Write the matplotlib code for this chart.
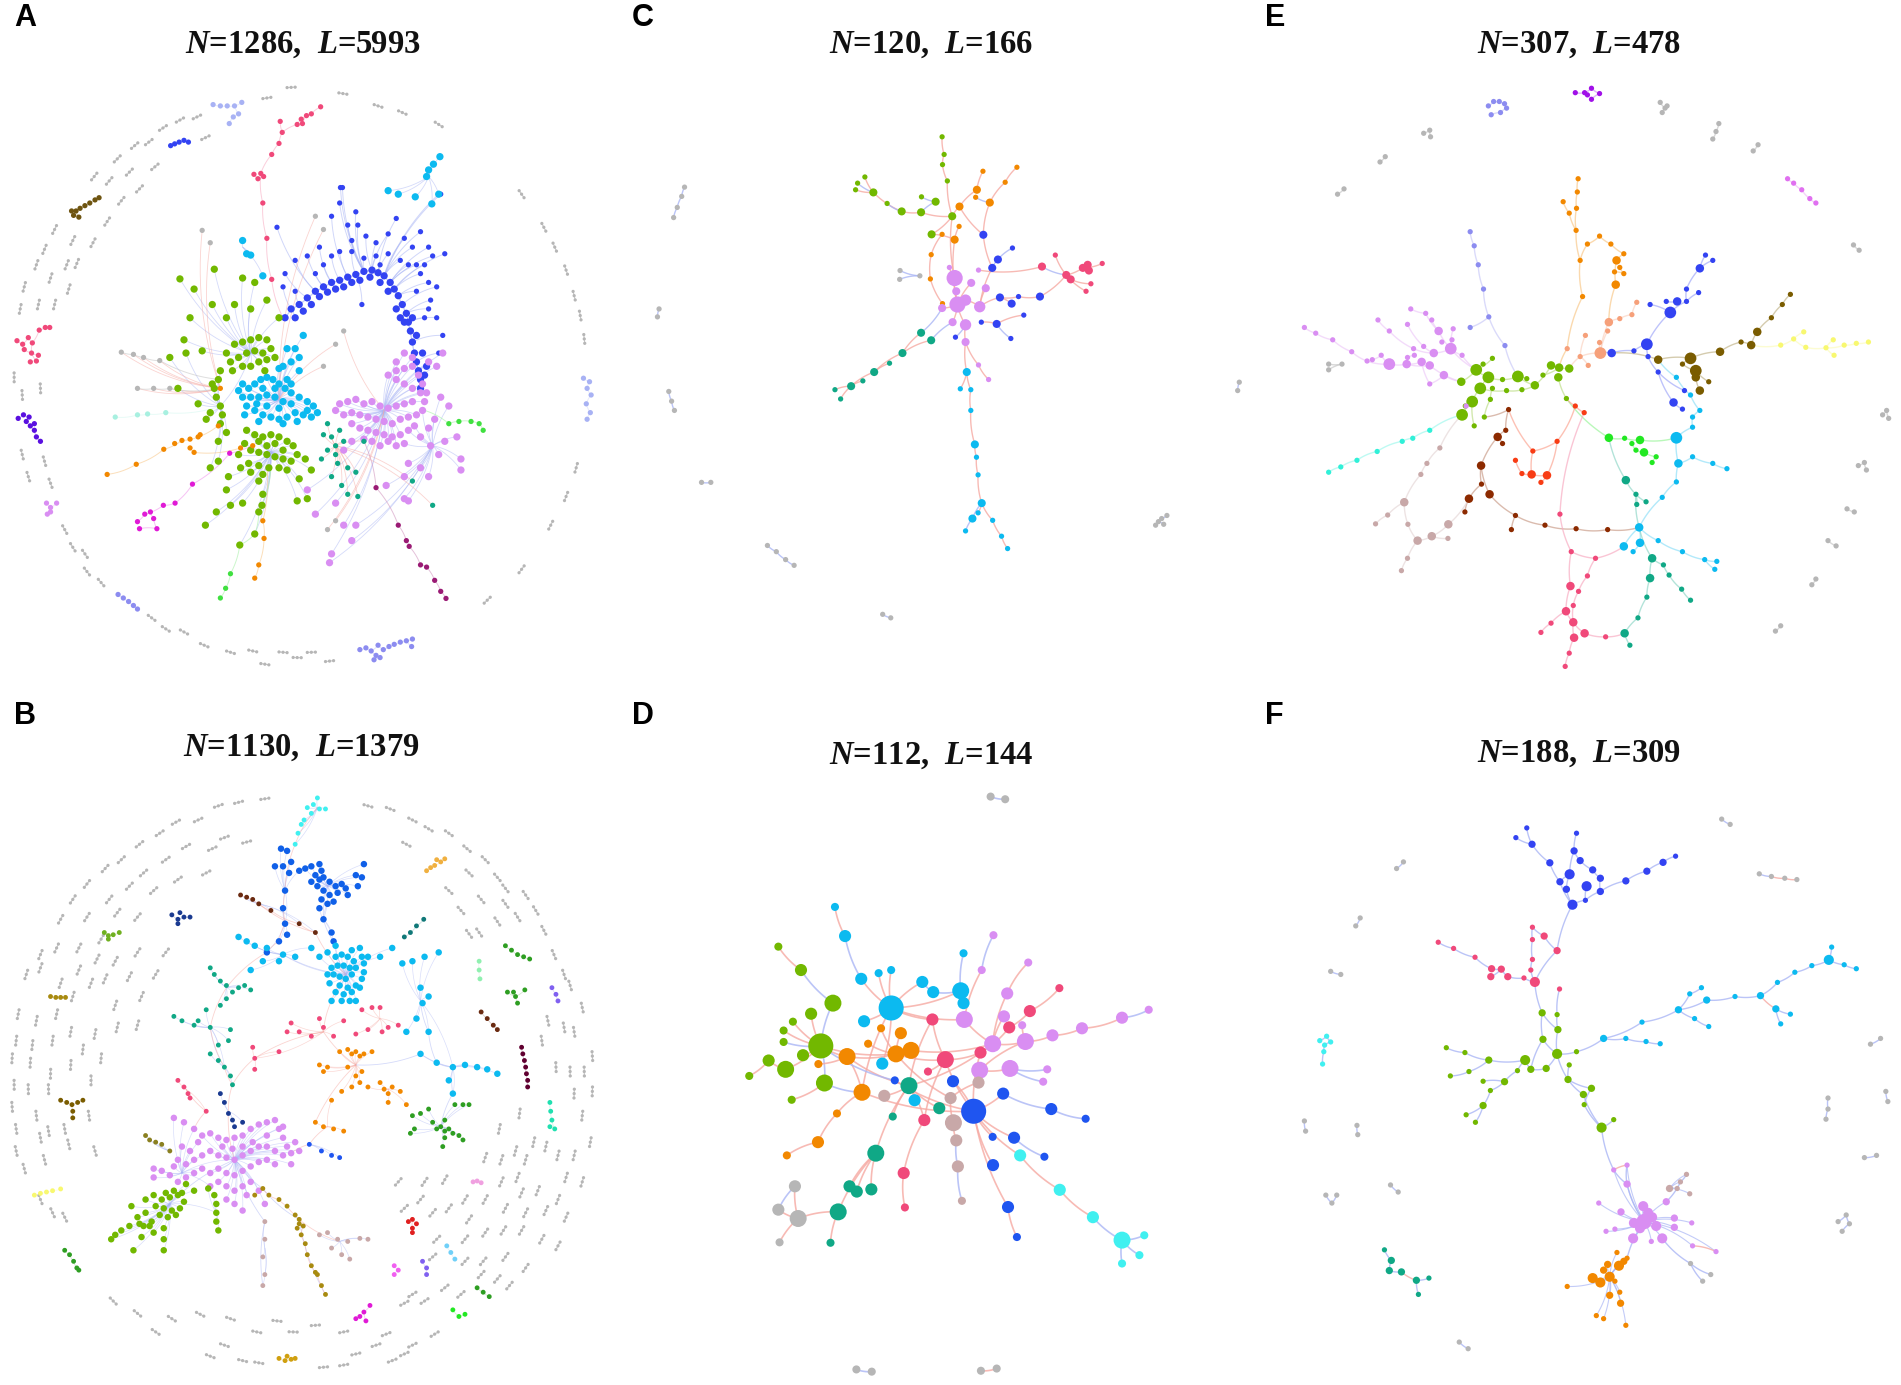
import numpy as np
import matplotlib
matplotlib.use("Agg")
import matplotlib.pyplot as plt
from matplotlib.collections import LineCollection

plt.rcParams['mathtext.fontset'] = 'custom'
plt.rcParams['mathtext.rm'] = 'Liberation Serif:bold'
plt.rcParams['mathtext.it'] = 'Liberation Serif:italic:bold'
plt.rcParams['mathtext.bf'] = 'Liberation Serif:bold'

# ---------------- titles / labels ----------------
TITLES = {'A': r'$N$=1286,  $L$=5993', 'C': r'$N$=120,  $L$=166', 'E': r'$N$=307,  $L$=478',
          'B': r'$N$=1130,  $L$=1379', 'D': r'$N$=112,  $L$=144', 'F': r'$N$=188,  $L$=309'}
TITLE_POS = {'A': (750, 100), 'C': (735, 100), 'E': (770, 100),
             'B': (745, 125), 'D': (735, 145), 'F': (770, 140)}

COL = {'gray': '#b6b6b6', 'violet': '#d98ef2', 'sky': '#0cbaf0', 'blue': '#3343f2', 'rblue': '#1f55f0',
       'green': '#72b800', 'orange': '#f28800', 'teal': '#10a886', 'pink': '#f0497a', 'magenta': '#e01ad6',
       'dmag': '#9a1a74', 'brown': '#6e5410', 'purple': '#5a10e0', 'lav': '#a8b2f4', 'lblue': '#a8d2f8',
       'cyan': '#40f0f0', 'mint': '#a8f0e0', 'salmon': '#f6a07a', 'olive': '#7a5c00', 'yellow': '#f8f870',
       'bgreen': '#22e822', 'redor': '#f83c14', 'dbrown': '#8c2a00', 'rosy': '#c8a8a8', 'lcyan': '#30f0d8',
       'peri': '#8c8cf0', 'navy': '#1a3a90', 'gold': '#a88a10', 'dgreen': '#2e9e22', 'pviolet': '#e070f0',
       'bpurple': '#a010e8', 'mblue': '#1060e8', 'dbrown2': '#6a2a10', 'orange2': '#f0b040',
       'olive2': '#8a8020', 'teal3': '#107878', 'maroon': '#600030', 'aqua': '#20e0b0', 'pinkl': '#f0a0e0',
       'red': '#e02020', 'skyl': '#70d0f8', 'mag2': '#f060f0', 'bv': '#8060f0', 'gold2': '#d0a010',
       'lgreen': '#40e040', 'lime2': '#70b020', 'mint2': '#90f0b0'}
EDGE = {'r': '#f6a9a2', 'b': '#aab6f5'}

# ================= PANEL C =================
C_nodes = [
    ('green', [(762,310),(767,350),(763,373),(775,410),(553,415),(571,401),(548,430),(592,436,2),(626,461),(662,479,2),
               (710,481,2),(711,446),(746,457,2),(787,490,2),(736,531,2)]),
    ('orange', [(863,388),(947,379),(918,413),(848,430,2),(845,447),(880,459,2),(805,468,2),(804,513),(762,531),
                (793,543,2),(735,577),(733,632),(763,688)]),
    ('blue', [(864,532,2),(936,562),(900,588,2),(886,607,2),(905,674,2),(951,672),(934,688,2),(1004,672,2),(964,714),
              (897,734,2),(859,730),(932,767),(795,764)]),
    ('pink', [(1009,604,2),(1042,578),(1069,623,2),(1080,633,2),(1110,607,2),(1122,600,2),(1125,613,2),(1158,597),
              (1130,643),(1118,660)]),
    ('violet', [(793,630,4),(800,690,4),(820,736,3),(855,695,3),(788,730,2),(870,653,2),(834,641,2),(852,612),(780,606),
                (797,660,2),(762,698,2),(820,775,2),(852,827),(877,860),(820,680,3)]),
    ('teal', [(710,754,2),(735,771,2),(664,800,2),(632,823),(594,843,2),(566,863),(537,875,2),(497,883),(511,904)]),
    ('sky', [(823,843,2),(807,881),(833,883),(833,930),(843,1007,2),(847,1036),(851,1076),(860,1140,2),(851,1162),
             (837,1175,2),(820,1203),(887,1179),(909,1215),(924,1243)]),
    ('gray', [(125,424),(118,445),(107,470),(98,493),(62,700),(58,718),(86,887),(93,909),(100,930),(167,1093),(190,1093),
              (330,1236),(352,1250),(375,1268),(396,1281),(615,1392),(635,1400),(1497,866),(1493,885),(1290,1190),
              (1305,1175),(1318,1168),(1310,1188),(1297,1182),(658,613),(657,633),(707,625)]),
]
C_edges = [
    ('r', [(762,310),(767,350),(763,373),(775,410),(787,490)]), ('r', [(787,490),(793,630)]),
    ('b', [(553,415),(592,436)]), ('r', [(548,430),(592,436)]), ('r', [(571,401),(592,436)]),
    ('r', [(592,436),(662,479),(710,481),(787,490)]), ('b', [(626,461),(662,479)]),
    ('b', [(711,446),(746,457),(710,481)]), ('r', [(736,531),(787,490)]),
    ('r', [(947,379),(918,413),(880,459),(864,532)]), ('r', [(863,388),(848,430),(805,468),(787,490)]),
    ('b', [(845,447),(880,459)]), ('r', [(805,468),(864,532)]),
    ('r', [(804,513),(793,543),(736,531)]), ('r', [(762,531),(735,577),(733,632),(763,688)]), ('r', [(793,543),(800,690)]),
    ('r', [(864,532),(886,607),(855,695)]), ('b', [(936,562),(900,588),(886,607)]), ('r', [(905,674),(951,672),(1004,672)]),
    ('r', [(934,688),(905,674),(855,695)]), ('r', [(964,714),(897,734),(859,730)]), ('b', [(897,734),(932,767)]),
    ('b', [(795,764),(820,736)]),
    ('r', [(852,612),(1009,604)]), ('b', [(1009,604),(1069,623)]), ('r', [(1069,623),(1110,607),(1158,597)]),
    ('r', [(1042,578),(1069,623)]), ('r', [(1080,633),(1130,643)]), ('r', [(1069,623),(1118,660)]),
    ('r', [(1004,672),(1069,623)]), ('r', [(1122,600),(1125,613)]),
    ('r', [(780,606),(793,630),(800,690),(820,736)]), ('r', [(834,641),(800,690)]), ('r', [(870,653),(855,695)]),
    ('r', [(762,698),(800,690)]), ('r', [(788,730),(800,690)]), ('r', [(820,736),(820,775),(852,827),(877,860)]),
    ('r', [(797,660),(800,690)]), ('r', [(855,695),(820,680),(800,690)]),
    ('b', [(788,730),(735,771)]), ('r', [(735,771),(664,800),(594,843),(537,875),(497,883)]), ('r', [(710,754),(664,800)]),
    ('r', [(632,823),(594,843)]), ('r', [(566,863),(537,875)]), ('r', [(537,875),(511,904)]), ('b', [(710,754),(762,698)]),
    ('r', [(820,775),(823,843),(833,883),(833,930),(843,1007),(847,1036),(851,1076),(860,1140)]),
    ('r', [(807,881),(823,843)]), ('b', [(860,1140),(837,1175),(820,1203)]),
    ('r', [(860,1140),(887,1179),(909,1215),(924,1243)]), ('r', [(851,1162),(860,1140)]),
    ('b', [(125,424),(118,445),(107,470),(98,493)]), ('b', [(62,700),(58,718)]), ('b', [(86,887),(93,909),(100,930)]),
    ('b', [(167,1093),(190,1093)]), ('b', [(330,1236),(352,1250),(375,1268),(396,1281)]), ('b', [(615,1392),(635,1400)]),
    ('b', [(1497,866),(1493,885)]), ('b', [(1290,1190),(1305,1175),(1318,1168)]), ('b', [(1310,1188),(1297,1182)]),
    ('b', [(658,613),(707,625),(657,633)]),
]

# ================= PANEL D =================
D_nodes = [
    ('sky', [(497,487,1),(522,553,2),(562,650,2),(605,637,1),(636,630,1),(636,716,4),(569,746,2),(713,657,2),(740,680,2),
             (808,677,3),(815,705,2),(815,592,1),(614,842,2),(694,925,2)]),
    ('green', [(357,577,1),(413,630,2),(492,705,3),(438,729,2),(393,747,1),(370,767,1),(370,793,1),(462,802,4),(418,823,2),
               (333,835,2),(375,855,3),(285,870,1),(471,886,3),(390,924,1)]),
    ('orange', [(611,762,1),(660,773,2),(579,797,1),(527,826,3),(648,820,3),(685,812,3),(456,843,1),(564,907,3),(502,955,1),
                (455,1020,2),(378,1050,1)]),
    ('pink', [(738,742,2),(979,723,2),(1052,671,1),(928,760,2),(770,833,3),(857,817,2),(727,860,1),(718,970,2),(667,1090,2),
              (670,1168,1)]),
    ('violet', [(889,551,1),(975,613,1),(860,630,1),(923,683,2),(817,742,3),(915,735,2),(960,755,1),(887,797,3),(968,792,3),
                (1035,778,2),(1108,762,2),(1207,738,2),(1273,720,1),(855,857,3),(930,853,3),(1022,855,1),(1012,883,1)]),
    ('rblue', [(645,880,1),(789,882,2),(840,950,4),(913,910,2),(1032,945,2),(1117,967,1),(887,1008,1),(940,1010,2),
               (1015,1053,1),(888,1072,2),(925,1167,2),(947,1235,1)]),
    ('teal', [(680,892,3),(755,943,2),(640,962,1),(598,1045,3),(533,1120,2),(551,1132,2),(587,1127,2),(505,1178,3),(486,1248,1)]),
    ('rosy', [(619,915,2),(783,920,2),(852,885,2),(790,976,3),(797,1016,2),(801,1075,2),(811,1153,1)]),
    ('gray', [(398,1120,2),(357,1173,2),(406,1193,3),(360,1247,1),(882,237,1),(918,243,1),(550,1535,1),(588,1540,1),
              (858,1538,1),(897,1533,1)]),
    ('cyan', [(955,1050,2),(1053,1128,2),(1135,1190,2),(1207,1242,3),(1262,1231,1),(1250,1276,1),(1207,1295,1)]),
]
D_edges = [
    ('r', [(497,487),(522,553)]), ('b', [(522,553),(562,650)]), ('r', [(562,650),(636,716)]), ('r', [(605,637),(636,716)]),
    ('r', [(636,630),(636,716)]), ('r', [(569,746),(636,716)]), ('r', [(713,657),(636,716)]), ('b', [(713,657),(740,680),(808,677)]),
    ('b', [(815,592),(808,677)]), ('b', [(808,677),(815,705)]), ('r', [(636,716),(738,742)]), ('r', [(636,716),(808,677)]),
    ('r', [(614,842),(636,716)]), ('r', [(694,925),(680,892)]),
    ('r', [(357,577),(413,630)]), ('b', [(413,630),(492,705)]), ('b', [(492,705),(462,802)]), ('r', [(438,729),(462,802)]),
    ('r', [(393,747),(462,802)]), ('r', [(370,767),(462,802)]), ('b', [(370,793),(462,802)]), ('r', [(418,823),(462,802)]),
    ('r', [(333,835),(375,855)]), ('r', [(285,870),(333,835)]), ('r', [(375,855),(462,802)]), ('b', [(471,886),(462,802)]),
    ('r', [(390,924),(471,886)]), ('b', [(471,886),(564,907)]), ('r', [(462,802),(527,826)]),
    ('r', [(527,826),(648,820)]), ('r', [(611,762),(648,820)]), ('r', [(660,773),(648,820)]), ('r', [(579,797),(648,820)]),
    ('r', [(648,820),(685,812)]), ('r', [(456,843),(527,826)]), ('r', [(564,907),(502,955),(455,1020),(378,1050)]),
    ('r', [(564,907),(527,826)]),
    ('r', [(738,742),(770,833)]), ('r', [(770,833),(857,817)]), ('r', [(857,817),(928,760),(979,723),(1052,671)]),
    ('r', [(727,860),(770,833)]), ('r', [(718,970),(667,1090),(670,1168)]), ('r', [(718,970),(680,892)]),
    ('b', [(889,551),(860,630)]), ('r', [(860,630),(817,742)]), ('r', [(975,613),(923,683)]), ('r', [(923,683),(887,797)]),
    ('r', [(915,735),(887,797)]), ('r', [(887,797),(968,792)]), ('r', [(968,792),(1035,778),(1108,762),(1207,738)]),
    ('b', [(1207,738),(1273,720)]), ('r', [(855,857),(930,853)]), ('b', [(930,853),(1022,855)]), ('b', [(930,853),(1012,883)]),
    ('r', [(960,755),(968,792)]), ('r', [(817,742),(887,797)]),
    ('r', [(840,950),(789,882)]), ('r', [(840,950),(913,910)]), ('b', [(913,910),(1032,945),(1117,967)]),
    ('r', [(840,950),(887,1008)]), ('r', [(840,950),(940,1010)]), ('b', [(940,1010),(1015,1053)]), ('r', [(840,950),(888,1072)]),
    ('r', [(840,950),(925,1167),(947,1235)]), ('r', [(645,880),(840,950)]),
    ('r', [(680,892),(755,943)]), ('r', [(680,892),(640,962)]), ('r', [(680,892),(598,1045)]), ('r', [(598,1045),(533,1120)]),
    ('r', [(598,1045),(551,1132)]), ('r', [(598,1045),(587,1127)]), ('r', [(598,1045),(505,1178)]), ('r', [(505,1178),(486,1248)]),
    ('r', [(505,1178),(406,1193)]),
    ('r', [(852,885),(783,920),(790,976),(797,1016)]), ('b', [(797,1016),(801,1075),(811,1153)]), ('r', [(619,915),(680,892)]),
    ('b', [(398,1120),(357,1173)]), ('r', [(357,1173),(406,1193),(360,1247)]), ('r', [(398,1120),(406,1193)]),
    ('r', [(840,950),(955,1050),(1053,1128),(1135,1190)]), ('b', [(1135,1190),(1207,1242)]), ('b', [(1207,1242),(1262,1231)]),
    ('b', [(1207,1242),(1250,1276)]), ('b', [(1207,1242),(1207,1295)]),
    ('r', [(462,802),(648,820)]), ('r', [(636,716),(817,742)]), ('r', [(527,826),(680,892)]), ('r', [(648,820),(770,833)]),
    ('r', [(770,833),(840,950)]), ('r', [(685,812),(887,797)]), ('r', [(564,907),(840,950)]), ('r', [(680,892),(887,797)]),
    ('r', [(738,742),(680,892)]), ('r', [(636,716),(564,907)]), ('r', [(857,817),(840,950)]), ('r', [(968,792),(855,857)]),
    ('r', [(770,833),(718,970)]), ('r', [(648,820),(783,920)]), ('b', [(462,802),(645,880)]),
    ('b', [(882,237),(918,243)]), ('b', [(550,1535),(588,1540)]), ('r', [(858,1538),(897,1533)]),
]

# ================= PANEL E =================
E_nodes = [
    ('peri', [(545,240),(558,230),(572,230),(585,235),(590,245),(575,255),(552,260)]),
    ('bpurple', [(760,210),(783,210),(800,200),(820,212),(800,225),(790,215)]),
    ('pviolet', [(1285,405),(1300,415),(1320,430),(1340,450),(1355,460)]),
    ('gray', [(970,232),(982,245),(975,255),(987,240),(385,302),(400,295),(402,310),(277,367),(290,355),(172,440),(188,428),
              (1100,315),(1108,298),(1115,280),(1200,342),(1212,328),(1448,555),(1462,567),(1520,940),(1530,930),(1535,948),
              (1460,1055),(1475,1048),(1480,1065),(1432,1153),(1450,1160),(1385,1225),(1405,1237),(1345,1325),(1355,1312),
              (1255,1430),(1268,1418),(150,825),(150,838),(183,825)]),
    ('green', [(515,838,3),(545,855,3),(525,880,3),(505,910,3),(480,940,3),(478,865,2),(555,880),(550,905),(535,945),(510,965),
               (580,860),(618,853,3),(640,858),(660,873,2),(628,883),(590,885),(680,850),(700,828,2),(720,833,2),(745,835,2),
               (718,855,2),(738,903),(555,812),(532,825),(488,920)]),
    ('violet', [(90,742),(118,755),(160,770),(207,797),(245,818),(258,815),(280,805),(300,825,3),(343,825,2),(362,805),
                (380,820,2),(400,828,2),(410,800,2),(385,785),(360,790),(345,810),(353,700),(390,710),(405,725),(422,750,2),
                (452,790,3),(455,770),(430,775),(435,850,2),(400,870),(300,750),(272,725),(345,735),(458,745),(480,805),(490,920)]),
    ('peri', [(500,525),(510,557),(520,600),(533,655),(546,718),(500,742),(586,783)]),
    ('orange', [(767,405),(765,435),(763,472),(730,457),(745,483),(762,522),(790,553),(820,535),(848,553),(880,575),(862,590,2),
                (870,606),(880,620),(857,616),(860,645,2),(772,590),(778,672)]),
    ('salmon', [(912,685),(900,713),(870,722),(843,730,2),(840,750),(785,760),(820,776),(822,800,3),(740,790),(772,808),(792,828)]),
    ('blue', [(1082,578),(1100,590),(1068,608,2),(1035,655),(1065,663),(985,683),(1012,683,2),(1035,683),(995,708,3),(945,690),
              (937,780,3),(905,795),(850,800,2),(940,808),(965,843),(1003,912,2),(1025,927),(1030,885)]),
    ('olive', [(1292,667),(1272,690),(1245,720),(1210,752,2),(1195,782,2),(1170,775),(1118,797,2),(1045,812,3),(1025,825),
               (1058,840,3),(1058,855,2),(1090,865),(1068,885,2),(965,815,2)]),
    ('yellow', [(1268,782),(1300,768),(1325,752),(1330,787),(1380,788),(1398,770),(1400,805),(1425,782),(1455,778),(1485,775)]),
    ('sky', [(1010,855),(1045,895),(1068,930),(1050,945),(1050,968),(1010,992,3),(1015,1050,2),(1050,1035),(1100,1050),
             (1135,1062),(1010,1092),(975,1127),(918,1195,2),(965,1225),(920,1230,2),(880,1238,2),(903,1250),(1025,1250),
             (1080,1268),(1110,1272),(1105,1290)]),
    ('bgreen', [(843,992,2),(882,993),(900,1005),(920,997,2),(910,1020),(930,1025,2),(960,1035),(950,1048)]),
    ('teal', [(885,1088,2),(910,1120),(935,1137),(912,1143),(950,1265,2),(978,1280),(992,1303),(945,1310,2),(1023,1335),
              (1045,1360),(937,1353),(915,1400),(882,1435,2),(895,1462)]),
    ('redor', [(760,920),(782,935),(715,1000),(655,1022),(612,1043),(628,1073),(652,1075,2),(690,1077,2),(675,1093)]),
    ('dbrown', [(595,928),(588,975),(568,990,2),(580,1005),(527,1055,2),(528,1097),(548,1120,2),(497,1130,2),(487,1160),
                (612,1168),(602,1200),(685,1190),(762,1198),(840,1200)]),
    ('rosy', [(425,1015),(393,1050),(378,1075),(337,1138,2),(296,1167),(266,1187),(346,1188),(370,1225,2),(405,1215,2),
              (446,1188,2),(445,1220),(345,1265),(330,1293)]),
    ('lcyan', [(400,975),(358,993),(332,1000),(270,1023),(220,1043),(180,1058),(150,1070)]),
    ('pink', [(722,1165),(750,1250),(810,1265),(790,1305),(748,1328,2),(768,1340),(755,1372),(737,1385,2),(755,1410,2),
              (700,1412),(675,1433),(783,1435,2),(757,1445,2),(835,1443),(745,1480),(735,1510)]),
]
E_edges = [
    ('gray', [(385,302),(400,295),(402,310)]), ('gray', [(277,367),(290,355)]), ('gray', [(172,440),(188,428)]),
    ('gray', [(1100,315),(1108,298),(1115,280)]), ('gray', [(1200,342),(1212,328)]), ('gray', [(1448,555),(1462,567)]),
    ('gray', [(1520,940),(1530,930),(1535,948)]), ('gray', [(1460,1055),(1475,1048),(1480,1065)]),
    ('gray', [(1432,1153),(1450,1160)]), ('gray', [(1385,1225),(1405,1237)]), ('gray', [(1345,1325),(1355,1312)]),
    ('gray', [(1255,1430),(1268,1418)]), ('gray', [(150,825),(183,825),(150,838)]), ('gray', [(970,232),(982,245),(975,255)]),
    ('peri', [(545,240),(558,230),(572,230),(585,235),(590,245),(575,255),(552,260)]),
    ('bpurple', [(760,210),(783,210),(800,200),(820,212),(800,225)]),
    ('pviolet', [(1285,405),(1300,415),(1320,430),(1340,450),(1355,460)]),
    ('violet', [(90,742),(118,755),(160,770),(207,797),(245,818),(300,825),(343,825),(400,828),(478,865)]),
    ('violet', [(353,700),(390,710),(422,750),(452,790),(515,838)]), ('violet', [(272,725),(300,750),(360,790),(410,800),(452,790)]),
    ('violet', [(258,815),(280,805),(300,825)]), ('violet', [(343,825),(380,820),(400,870),(435,850),(478,865)]),
    ('violet', [(405,725),(422,750)]), ('violet', [(455,770),(452,790),(480,805),(515,838)]), ('violet', [(362,805),(345,810)]),
    ('violet', [(458,745),(452,790)]), ('violet', [(490,920),(505,910)]), ('violet', [(345,735),(385,785),(410,800)]),
    ('peri', [(500,525),(510,557),(520,600),(533,655),(546,718),(586,783),(618,853)]), ('peri', [(500,742),(546,718)]),
    ('green', [(478,865),(515,838),(545,855),(525,880),(505,910),(480,940)]), ('green', [(515,838),(555,812)]),
    ('green', [(545,855),(580,860),(618,853),(660,873),(700,828),(745,835)]), ('green', [(525,880),(590,885),(628,883),(660,873)]),
    ('green', [(555,880),(550,905),(535,945)]), ('green', [(505,910),(510,965)]), ('green', [(680,850),(720,833)]),
    ('green', [(718,855),(738,903)]), ('green', [(532,825),(515,838)]), ('green', [(640,858),(618,853)]),
    ('orange', [(767,405),(765,435),(763,472),(762,522),(772,590),(778,672),(740,790),(720,833)]),
    ('orange', [(730,457),(745,483),(762,522)]), ('orange', [(790,553),(820,535),(848,553),(880,575),(862,590),(860,645),(843,730)]),
    ('orange', [(870,606),(880,620),(857,616)]), ('orange', [(790,553),(772,590)]),
    ('salmon', [(912,685),(900,713),(870,722),(843,730),(822,800),(772,808),(745,835)]), ('salmon', [(840,750),(822,800)]),
    ('salmon', [(785,760),(772,808)]), ('salmon', [(820,776),(822,800)]), ('salmon', [(792,828),(772,808)]),
    ('blue', [(1082,578),(1068,608),(1035,655),(1035,683),(995,708),(945,690)]), ('blue', [(1100,590),(1068,608)]),
    ('blue', [(1065,663),(1035,683)]), ('blue', [(985,683),(1012,683)]), ('blue', [(995,708),(937,780),(905,795),(850,800),(822,800)]),
    ('blue', [(937,780),(940,808),(965,843),(1003,912),(1025,927)]), ('blue', [(965,843),(1030,885)]),
    ('olive', [(1292,667),(1272,690),(1245,720),(1210,752),(1195,782),(1170,775),(1118,797),(1045,812),(965,815),(850,800)]),
    ('olive', [(1045,812),(1025,825),(1058,840),(1058,855),(1068,885)]), ('olive', [(1058,840),(1090,865)]),
    ('yellow', [(1195,782),(1268,782),(1300,768),(1330,787),(1380,788),(1425,782),(1455,778),(1485,775)]),
    ('yellow', [(1325,752),(1300,768)]), ('yellow', [(1398,770),(1380,788),(1400,805)]),
    ('sky', [(965,815),(1010,855),(1045,895),(1068,930),(1050,945),(1050,968),(1010,992),(1015,1050),(1010,1092),(975,1127),
             (918,1195),(880,1238)]),
    ('sky', [(1015,1050),(1050,1035),(1100,1050),(1135,1062)]), ('sky', [(918,1195),(965,1225),(1025,1250),(1080,1268),(1110,1272)]),
    ('sky', [(1080,1268),(1105,1290)]), ('sky', [(920,1230),(918,1195)]), ('sky', [(903,1250),(920,1230)]),
    ('bgreen', [(738,903),(843,992),(882,993),(920,997),(1010,992)]), ('bgreen', [(900,1005),(910,1020),(930,1025),(960,1035),(950,1048)]),
    ('teal', [(843,992),(885,1088),(910,1120),(918,1195),(950,1265),(945,1310),(937,1353),(915,1400),(882,1435),(895,1462)]),
    ('teal', [(910,1120),(935,1137)]), ('teal', [(912,1143),(910,1120)]), ('teal', [(950,1265),(978,1280),(992,1303),(1023,1335),(1045,1360)]),
    ('redor', [(738,903),(760,920),(782,935)]), ('redor', [(595,928),(655,1022),(715,1000),(760,920)]),
    ('redor', [(612,1043),(628,1073),(652,1075),(690,1077),(715,1000)]), ('redor', [(675,1093),(690,1077)]), ('redor', [(655,1022),(652,1075)]),
    ('dbrown', [(535,945),(595,928),(588,975),(568,990),(527,1055),(528,1097),(497,1130),(487,1160)]), ('dbrown', [(580,1005),(568,990)]),
    ('dbrown', [(527,1055),(548,1120),(612,1168),(685,1190),(762,1198),(840,1200),(918,1195)]), ('dbrown', [(612,1168),(602,1200)]),
    ('rosy', [(480,940),(425,1015),(393,1050),(378,1075),(337,1138),(296,1167),(266,1187)]),
    ('rosy', [(337,1138),(346,1188),(370,1225),(405,1215),(446,1188),(497,1130)]), ('rosy', [(370,1225),(345,1265),(330,1293)]),
    ('rosy', [(405,1215),(445,1220)]),
    ('lcyan', [(480,940),(400,975),(358,993),(332,1000),(270,1023),(220,1043),(180,1058),(150,1070)]),
    ('pink', [(782,935),(722,1165),(750,1250),(748,1328),(737,1385),(755,1410),(757,1445),(745,1480),(735,1510)]),
    ('pink', [(750,1250),(810,1265),(880,1238)]), ('pink', [(810,1265),(790,1305),(768,1340),(755,1372),(755,1410)]),
    ('pink', [(737,1385),(700,1412),(675,1433)]), ('pink', [(755,1410),(783,1435),(835,1443),(882,1435)]),
]

# ================= PANEL F =================
F_nodes = [
    ('blue', [(640,308),(613,330),(653,345,2),(763,320),(757,360,2),(772,382,2),(697,387,2),(746,413,3),(722,430,2),(738,447,2),
              (788,440,3),(803,403,2),(822,422,2),(822,452,2),(785,472),(753,482,3),(885,428,2),(937,406,2),(977,386,2),(1008,372)]),
    ('pink', [(654,533),(683,553,2),(421,567),(459,581),(512,601),(654,561),(715,586,2),(654,606),(553,627,2),(577,628,2),
              (593,645,2),(551,645,2),(650,630),(633,648),(660,657,3),(721,673)]),
    ('green', [(678,727,2),(715,731),(717,765,2),(680,787,2),(715,820,3),(763,815),(441,806),(487,817),(546,834,2),(636,834,3),
               (617,858),(650,855,2),(688,853,2),(745,845),(497,860),(451,870),(585,883,2),(532,882),(742,878,2),(550,903),
               (780,912,2),(800,898,2),(782,935),(532,937,2),(490,958),(513,975),(825,987,3),(855,969)]),
    ('sky', [(830,785,2),(885,785),(935,792),(970,797),(925,748),(1015,720,2),(1043,684),(1072,670),(1085,698,2),(1055,740),
             (1090,758),(1155,690),(1218,688,2),(1256,718,2),(1292,730),(1268,752),(1260,658),(1303,635),(1345,620),(1387,607,3),
             (1394,578),(1425,618),(1455,627)]),
    ('violet', [(855,1083),(888,1072),(888,1115,2),(818,1158),(873,1178,2),(928,1165,3),(950,1190,3),(985,1155,2),(905,1203,3),
                (858,1217),(836,1222),(903,1238,3),(975,1238,3),(1005,1192,2),(1005,1213,2),(1048,1203),(948,1245),(1108,1268),
                (1050,1255),(930,1200,4),(940,1180,3),(920,1215,3),(960,1210,3)]),
    ('rosy', [(1035,1093),(1020,1110),(993,1125,2),(1012,1125),(1043,1137)]),
    ('orange', [(863,1270),(888,1283),(840,1297,2),(868,1300,3),(803,1328,3),(822,1338,3),(845,1325,3),(858,1335),(845,1367,2),
                (870,1360),(872,1385,2),(740,1347),(812,1413),(830,1420),(885,1435),(880,1290,2),(830,1310,2)]),
    ('teal', [(288,1264),(305,1288,2),(300,1311,2),(330,1314,2),(367,1333,2),(398,1328),(372,1365)]),
    ('cyan', [(128,790),(145,780),(155,793),(140,800),(138,815),(135,843)]),
    ('gray', [(1045,1295),(1075,1335),(1095,1320),(1122,288),(1143,300),(318,400),(335,385),(217,530),(228,512),(155,633),
              (180,640),(90,972),(93,995),(220,982),(222,1003),(303,1117),(322,1133),(143,1140),(158,1158),(170,1140),(473,1473),
              (495,1488),(1215,412),(1245,418),(1278,422),(1308,425),(1490,798),(1515,785),(1528,905),(1533,928),(1385,920),
              (1385,945),(1380,968),(1475,1055),(1505,1050),(1410,1200),(1430,1185),(1438,1205),(1420,1222)]),
]
F_edges = [
    ('b', [(640,308),(653,345),(697,387),(722,430),(753,482)]), ('b', [(613,330),(653,345)]),
    ('b', [(763,320),(757,360),(746,413),(738,447),(753,482)]), ('b', [(772,382),(803,403),(822,422),(822,452),(785,472),(753,482)]),
    ('b', [(788,440),(785,472)]), ('b', [(746,413),(722,430)]), ('b', [(1008,372),(977,386),(937,406),(885,428),(822,452)]),
    ('b', [(753,482),(715,586),(660,657)]), ('b', [(757,360),(772,382)]),
    ('b', [(421,567),(459,581),(512,601),(553,627),(577,628),(593,645),(633,648),(660,657)]), ('b', [(551,645),(577,628)]),
    ('b', [(654,533),(654,561),(654,606),(650,630),(660,657)]), ('b', [(683,553),(715,586)]), ('b', [(660,657),(678,727),(717,765)]),
    ('b', [(721,673),(715,731)]), ('b', [(654,533),(683,553)]),
    ('b', [(678,727),(680,787),(650,855)]), ('b', [(715,731),(717,765),(715,820),(742,878),(780,912),(825,987)]),
    ('b', [(680,787),(715,820),(763,815)]), ('b', [(441,806),(487,817),(546,834),(636,834),(650,855),(688,853),(715,820)]),
    ('b', [(451,870),(497,860),(546,834)]), ('b', [(617,858),(585,883),(532,882)]), ('b', [(550,903),(585,883)]),
    ('b', [(490,958),(532,937),(550,903)]), ('b', [(513,975),(532,937)]), ('b', [(745,845),(742,878),(800,898),(782,935),(825,987)]),
    ('b', [(825,987),(855,969)]), ('b', [(636,834),(617,858)]),
    ('b', [(763,815),(830,785),(925,748),(1015,720),(1085,698),(1155,690),(1218,688),(1260,658),(1303,635),(1345,620),(1387,607),
           (1425,618),(1455,627)]),
    ('b', [(830,785),(885,785),(935,792),(970,797)]), ('b', [(1015,720),(1043,684),(1072,670)]),
    ('b', [(1015,720),(1055,740),(1090,758)]), ('r', [(1218,688),(1256,718)]), ('b', [(1256,718),(1292,730)]),
    ('b', [(1256,718),(1268,752)]), ('b', [(1387,607),(1394,578)]),
    ('b', [(825,987),(855,1083),(888,1115),(930,1200)]), ('r', [(888,1072),(855,1083)]), ('b', [(888,1072),(888,1115)]),
    ('b', [(930,1200),(888,1283),(868,1300),(845,1325)]), ('b', [(985,1155),(1020,1110),(1035,1093)]),
    ('b', [(975,1238),(1045,1295),(1075,1335)]), ('b', [(1045,1295),(1095,1320)]), ('r', [(1108,1268),(1050,1255)]),
    ('b', [(288,1264),(305,1288),(300,1311),(330,1314)]), ('r', [(330,1314),(367,1333)]), ('b', [(367,1333),(398,1328)]),
    ('b', [(367,1333),(372,1365)]),
    ('b', [(128,790),(145,780),(155,793),(140,800),(138,815),(135,843)]),
    ('b', [(1122,288),(1143,300)]), ('b', [(318,400),(335,385)]), ('b', [(217,530),(228,512)]), ('b', [(155,633),(180,640)]),
    ('b', [(90,972),(93,995)]), ('b', [(220,982),(222,1003)]), ('b', [(303,1117),(322,1133)]), ('b', [(143,1140),(158,1158),(170,1140)]),
    ('b', [(473,1473),(495,1488)]), ('b', [(1215,412),(1245,418)]), ('r', [(1245,418),(1278,422),(1308,425)]),
    ('b', [(1490,798),(1515,785)]), ('b', [(1528,905),(1533,928)]), ('b', [(1385,920),(1385,945),(1380,968)]),
    ('b', [(1475,1055),(1505,1050)]), ('b', [(1410,1200),(1430,1185),(1438,1205),(1420,1222)]),
]
F_hubs = {'violet': [(930,1200)], 'orange': [(845,1325)], 'rosy': [(993,1125)]}

# ================= PANEL A =================
A_center = (750, 850)
A_dash = [(720,198),(848,212),(935,240),(995,255),(1085,282),(660,222),(487,265),(445,272),(403,290),(368,322),(333,330),
          (290,360),(508,312),(383,378),(345,428),(320,390),(270,410),(233,400),(300,455),(265,502),(135,520),(180,545),
          (230,550),(110,565),(90,600),(125,630),(165,600),(190,597),(60,650),(95,690),(135,690),(170,655),(50,700),(35,855),
          (100,880),(55,895),(55,1030),(70,1080),(110,1045),(125,1095),(160,1200),(180,1240),(210,1255),(215,1295),(250,1320),
          (375,1400),(410,1425),(455,1432),(505,1462),(570,1478),(625,1475),(655,1505),(700,1478),(735,1490),(770,1478),
          (815,1498),(1290,440),(1345,515),(1372,560),(1400,612),(1420,670),(1435,715),(1445,768),(1425,1060),(1400,1125),
          (1362,1190),(1290,1290),(1205,1360)]
A_ring = [(705,720),(720,700),(740,690),(760,675),(780,660),(800,650),(820,640),(840,635),(860,628),(880,622),(900,615),
          (920,612),(935,618),(950,625),(965,640),(975,655),(985,670),(995,690),(1005,710),(1010,730),(1015,750),(1020,775),
          (1025,800),(1030,820),(1035,840),(1040,860)]
A_ring_in = [(730,720),(750,705),(770,690),(790,672),(810,662),(830,655),(850,650),(870,640),(890,635),(915,628),(940,640),
             (960,660),(980,700),(990,720),(1000,730),(1020,720),(1030,760),(1045,800),(1055,830),(1050,850),(1040,880)]
A_blue_out = [(842,425),(847,425),(840,460),(820,490),(880,480),(885,510),(860,510),(905,535),(930,550),(960,530),(980,495),
              (1000,540),(1020,560),(1040,525),(1060,560),(1070,580),(1100,575),(1050,600),(1030,600),(1010,600),(990,590),
              (960,575),(930,580),(900,585),(870,570),(840,570),(820,580),(790,560),(760,580),(730,590),(705,620),(685,515),
              (700,650),(730,660),(780,620),(800,600),(940,600),(1060,640),(1080,650),(1080,720),(1095,760),(1060,700),
              (1085,440),(1090,440),(1030,660),(895,690),(1065,680),(1040,620),(870,545),(1050,720),(1085,800)]
A_nodes = [
    ('sky', [(1088,355),(1072,372),(1060,385),(1055,400),(1085,440),(1068,462),(960,432),(985,440),(1027,446),
             (600,870),(615,880),(630,870),(645,860),(660,855),(675,860),(690,870),(705,880),(720,890),(740,900),(760,910),
             (775,920),(785,935),(770,945),(750,940),(730,935),(710,945),(690,950),(670,945),(650,940),(630,930),(610,920),
             (600,900),(620,900),(640,900),(660,895),(680,900),(700,910),(720,915),(690,925),(660,920),(635,915),(710,860),
             (650,880),(590,885),(605,940),(640,955),(700,960),(735,955),(760,930),(680,880),(720,870),(700,830),(720,820),
             (740,810),(730,790),(750,760),(710,790),(690,835),(740,840),(600,545),(610,575),(620,578),(650,625)]),
    ('green', [(580,780),(600,775),(620,770),(640,765),(660,770),(670,790),(650,800),(630,795),(610,800),(590,810),(570,820),
               (560,800),(600,830),(640,820),(660,815),(680,810),(620,830),(655,840),(575,840),(545,840),(540,860),(530,880),
               (535,900),(545,920),(550,940),(545,960),(560,980),(540,1000),(525,870),(520,935),(455,770),(460,800),(480,655),
               (445,632),(525,690),(530,610),(470,720),(500,795),(420,810),(440,880),(490,915),(510,950),(540,1045),(520,1060),
               (565,1080),(560,1110),(570,1145),(535,1160),(508,1190),(600,1140),(640,1090),(650,1120),(740,1085),(760,1130),
               (735,1135),(755,1040),(770,1065),(630,640),(600,630),(620,700),(560,720),(580,690),(690,720),(660,680),
               (610,975),(630,985),(650,990),(670,985),(690,990),(710,1000),(725,1010),(735,1030),(720,1045),(700,1040),
               (680,1035),(660,1030),(640,1025),(620,1020),(605,1005),(615,1050),(640,1055),(665,1060),(690,1060),(710,1065),
               (650,1075),(620,1070),(590,1030),(595,1060),(700,1020),(680,1005),(660,1010),(640,1000),(630,1210),(640,1160),
               (648,1145),(593,1235)]),
    ('lgreen', [(545,1355),(558,1333),(570,1300),(1110,960),(1135,955),(1165,955),(1185,960),(1195,975)]),
    ('violet', [(830,930),(850,940),(870,935),(890,940),(910,945),(930,950),(950,955),(970,960),(990,950),(1010,945),(1030,940),
                (1045,930),(1050,910),(1040,890),(1020,880),(1000,870),(980,860),(960,850),(980,840),(1000,835),(1020,830),
                (1035,850),(1045,870),(1055,890),(870,960),(890,970),(910,975),(930,980),(950,985),(970,990),(990,985),
                (1010,975),(1025,965),(940,920),(960,925),(980,920),(1000,915),(1020,910),(900,915),(920,910),(880,905),
                (860,910),(840,915),(960,1000),(980,1010),(1000,1005),(940,1010),(920,1000),(900,995),(1040,990),(1060,970),
                (1075,950),(1065,1010),(1085,1030),(1100,1000),(1130,990),(1140,1040),(1140,1065),(1040,1060),(1010,1050),
                (1060,1080),(1000,1080),(870,1000),(850,1020),(1000,1130),(1010,1135),(955,1100),(815,1275),(820,1255),
                (870,1225),(880,1190),(830,1140),(850,1190),(780,1165),(760,1110),(1095,800),(1080,830),(1090,900),
                (1110,920),(1000,800),(1020,810),(980,820),(1060,820)]),
    ('teal', [(800,985),(820,990),(840,975),(830,1010),(810,1020),(850,1000),(880,1070),(860,1060),(835,1050),(820,1080),
              (845,1100),(860,1120),(885,1125),(1020,1090),(1070,1145),(810,960),(795,1040),(830,1030),(900,1000)]),
    ('orange', [(265,1075),(337,1052),(405,1018),(432,1005),(450,998),(470,995),(490,990),(495,985),(470,1015),(480,1025),
                (540,965),(545,880),(595,1015),(625,1010),(650,1180),(653,1220),(640,1280),(630,1310)]),
    ('magenta', [(340,1182),(358,1165),(372,1160),(380,1175),(388,1198),(345,1198),(404,1145),(433,1140),(476,1097),(568,1027)]),
    ('dmag', [(985,1190),(1005,1225),(1012,1238),(1040,1280),(1055,1285),(1075,1315),(1090,1340),(1103,1356),(930,1105)]),
    ('pink', [(793,242),(770,258),(758,262),(745,270),(735,282),(748,280),(693,275),(698,300),(690,325),(672,350),(645,393),
              (628,395),(638,405),(652,400),(650,460),(660,540),(672,633)]),
    ('gray', [(300,798),(330,803),(355,810),(395,817),(340,880),(380,880),(420,880),(500,522),(520,550),(780,490),(800,520),
              (850,750),(830,780),(800,830),(830,1180),(810,1200)]),
    ('mint', [(285,945),(340,940),(365,938),(410,935)]),
    ('lav', [(527,237),(545,240),(562,240),(580,240),(598,232),(590,258),(577,265),(567,280),(1443,857),(1458,865),(1452,880),
             (1462,895),(1450,915),(1460,935),(1452,950)]),
    ('blue_p', [(422,330),(432,326),(443,322),(455,318),(466,322)]),
    ('brown', [(177,478),(188,478),(198,472),(210,466),(222,460),(235,453),(245,448),(195,492),(182,488)]),
    ('pink_p', [(42,772),(56,780),(70,765),(80,777),(97,748),(112,742),(123,742),(78,800),(90,818),(60,792),(75,820),(95,805)]),
    ('purple', [(45,948),(58,940),(65,955),(75,965),(85,975),(90,990),(100,1000),(85,960),(72,945)]),
    ('violet_p', [(115,1140),(125,1150),(140,1140),(117,1165),(125,1160)]),
    ('peri', [(292,1347),(305,1355),(318,1363),(330,1372),(340,1380),(890,1472),(905,1468),(918,1475),(930,1485),(935,1462),
              (948,1472),(962,1465),(975,1460),(990,1455),(1005,1452),(1020,1448),(1018,1465),(940,1490),(925,1495)]),
]
A_edges = [
    ('pink', [(793,242),(770,258),(745,270),(735,282),(698,300),(690,325),(672,350),(645,393),(650,460),(660,540),(672,633),(700,720)]),
    ('pink', [(758,262),(748,280)]), ('pink', [(693,275),(698,300)]), ('pink', [(628,395),(638,405),(652,400)]),
    ('orange', [(265,1075),(337,1052),(405,1018),(450,998),(490,990),(545,960)]), ('orange', [(470,1015),(480,1025),(595,1015)]),
    ('orange', [(630,1310),(640,1280),(653,1220),(650,1180),(660,1060)]),
    ('magenta', [(340,1182),(358,1165),(404,1145),(433,1140),(476,1097),(568,1027),(640,1000)]),
    ('magenta', [(372,1160),(380,1175),(388,1198),(345,1198)]),
    ('dmag', [(1103,1356),(1090,1340),(1075,1315),(1055,1285),(1040,1280),(1012,1238),(1005,1225),(985,1190),(930,1105),(900,1000)]),
    ('lgreen', [(545,1355),(558,1333),(570,1300),(593,1235),(630,1210),(640,1160),(648,1145),(670,1060)]),
    ('lgreen', [(1195,975),(1185,960),(1165,955),(1135,955),(1110,960),(1050,930)]),
    ('gray', [(300,798),(330,803),(355,810),(395,817),(545,860)]), ('gray', [(340,880),(380,880),(420,880),(540,880)]),
    ('mint', [(285,945),(340,940),(365,938),(410,935),(545,920)]),
    ('lav', [(527,237),(545,240),(562,240),(580,240),(598,232)]), ('lav', [(580,240),(590,258),(577,265),(567,280)]),
    ('lav', [(1443,857),(1458,865),(1452,880),(1462,895),(1450,915),(1460,935),(1452,950)]),
    ('blue', [(422,330),(432,326),(443,322),(455,318),(466,322)]),
    ('brown', [(177,478),(188,478),(198,472),(210,466),(222,460),(235,453),(245,448)]), ('brown', [(188,478),(195,492),(182,488)]),
    ('pink', [(42,772),(56,780),(70,765),(80,777),(97,748),(112,742),(123,742)]), ('pink', [(80,777),(78,800),(90,818)]),
    ('pink', [(60,792),(78,800),(95,805)]),
    ('purple', [(45,948),(58,940),(72,945),(65,955),(75,965),(85,975),(90,990),(100,1000)]), ('purple', [(85,960),(75,965)]),
    ('violet', [(115,1140),(125,1150),(140,1140)]), ('violet', [(125,1150),(125,1160),(117,1165)]),
    ('peri', [(292,1347),(305,1355),(318,1363),(330,1372),(340,1380)]),
    ('peri', [(890,1472),(905,1468),(918,1475),(935,1462),(948,1472),(962,1465),(975,1460),(990,1455),(1005,1452),(1020,1448)]),
    ('peri', [(918,1475),(930,1485),(940,1490),(925,1495)]), ('peri', [(1005,1452),(1018,1465)]),
]
A_hubs = {'sky': [(690,905),(1060,400),(600,560)], 'green': [(620,800),(670,1025),(545,920)], 'violet': [(950,930),(1070,1010)],
          'teal': [(830,1010)], 'gray': [(545,880),(690,905),(950,930)]}
A_dense = {'sky': 2, 'green': 2, 'violet': 2}

# ================= PANEL B =================
B_center = (745, 880)
B_dash = [(910,258),(965,265),(590,250),(540,258),(490,290),(435,295),(1020,290),(1060,310),(1110,320),(345,345),(395,320),
          (460,350),(525,355),(555,330),(610,340),(1005,345),(1155,355),(1200,380),(300,380),(355,410),(410,380),(440,425),
          (510,410),(260,400),(1110,450),(1160,410),(1230,420),(1250,445),(215,435),(270,470),(320,440),(380,450),(180,470),
          (1190,470),(1140,495),(1250,480),(1300,460),(1280,510),(150,515),(215,510),(290,500),(340,510),(1185,545),(1230,520),
          (1325,495),(1345,540),(100,595),(140,580),(195,580),(250,560),(340,590),(410,590),(1160,548),(1370,595),(65,640),
          (100,625),(150,660),(195,630),(240,605),(285,610),(320,645),(385,640),(1395,640),(1410,665),(45,730),(90,745),
          (140,730),(180,690),(225,660),(260,650),(285,710),(350,690),(1440,715),(1420,770),(1355,745),(40,790),(80,800),
          (130,790),(175,770),(235,775),(290,760),(340,755),(1340,790),(1395,760),(1465,825),(30,830),(75,840),(125,865),
          (175,845),(250,830),(205,810),(35,890),(70,900),(120,900),(225,880),(1375,850),(1410,860),(1445,860),(30,940),
          (90,960),(40,990),(120,995),(220,960),(160,990),(1420,910),(1465,905),(1440,960),(1460,1020),(1285,955),(1235,990),
          (1275,1040),(40,1040),(100,1010),(170,1025),(60,1080),(110,1060),(235,1040),(1420,1050),(1380,1050),(1350,1030),
          (1320,1020),(1240,1060),(1200,1055),(1300,1060),(1280,1100),(1240,1110),(1400,1100),(1440,1110),(1330,1130),
          (130,1180),(160,1190),(100,1150),(985,1110),(1050,1110),(1100,1105),(1150,1150),(1200,1150),(1250,1170),(1300,1180),
          (1350,1175),(1400,1190),(1380,1150),(1290,1135),(1040,1150),(1070,1180),(1000,1170),(1110,1170),(1160,1195),
          (1245,1220),(1290,1220),(1340,1240),(1380,1255),(1200,1225),(1150,1240),(1080,1240),(1070,1280),(1150,1290),
          (1195,1290),(1250,1280),(1300,1305),(1230,1330),(1260,1345),(1190,1320),(1100,1350),(1140,1365),(1050,1380),
          (1000,1385),(1020,1365),(280,1380),(340,1408),(385,1450),(425,1420),(495,1410),(570,1420),(635,1450),(685,1425),
          (780,1435),(725,1450),(850,1450),(955,1455),(1075,1455),(1020,1480),(930,1480),(880,1500),(520,1505),(555,1480),
          (600,1515),(640,1520),(800,1530),(850,1525),(970,1515),(1000,1500),(655,242)]
B_nodes = [
    ('cyan', [(760,262),(775,255),(790,265),(805,265),(785,240),(770,275),(752,290),(745,300),(737,320),(730,345)]),
    ('mblue', [(695,355),(710,360),(720,385),(680,395),(700,395),(715,410),(740,405),(755,400),(770,395),(790,390),(795,405),
               (780,415),(800,420),(815,430),(830,440),(845,435),(855,445),(835,455),(815,460),(800,450),(785,440),(795,470),
               (810,480),(825,475),(860,460),(880,415),(900,390),(895,420),(885,440),(790,425),(770,430),(705,450),(700,490),
               (705,525),(710,550),(690,565),(660,590),(790,490),(800,515),(820,545),(825,565)]),
    ('dbrown2', [(595,460),(610,465),(625,470),(640,480),(670,495),(740,525),(780,545)]),
    ('sky', [(830,600),(845,595),(860,600),(875,610),(880,625),(870,640),(855,650),(840,645),(825,640),(820,625),(835,620),
             (850,620),(865,625),(840,665),(860,670),(880,665),(895,650),(900,635),(890,670),(870,680),(850,685),(830,680),
             (815,660),(810,640),(845,700),(865,700),(880,700),(820,700),(895,600),(900,615),(590,555),(610,565),(630,575),
             (660,580),(700,595),(730,600),(770,580),(790,600),(810,590),(830,575),(870,585),(890,580),(910,600),(940,600),
             (970,580),(995,615),(1020,610),(1050,600),(1085,590),(1040,670),(1060,690),(1045,705),(1030,740),(1060,770),
             (1005,770),(1040,820),(1080,840),(1120,850),(1150,845),(1180,850),(1205,855),(1230,865),(1110,880),(1120,910),
             (620,630),(650,610),(690,610)]),
    ('teal', [(520,625),(530,640),(545,655),(560,665),(575,680),(590,670),(605,665),(620,675),(560,695),(545,710),(430,735),
              (450,745),(480,755),(510,720),(490,745),(520,760),(570,765),(565,790),(540,800),(520,820),(540,835),(555,850),
              (570,870),(575,890)]),
    ('pink', [(710,770),(720,750),(740,770),(770,780),(790,740),(800,760),(825,780),(850,745),(880,775),(895,720),(920,715),
              (940,715),(910,765),(945,770),(960,760),(985,755),(625,805),(630,830),(630,855),(690,815),(440,880),(455,895),
              (465,910),(470,920),(510,950)]),
    ('orange', [(840,815),(860,810),(880,815),(900,820),(920,815),(790,845),(810,850),(800,860),(860,850),(880,870),(895,860),
                (890,885),(910,895),(870,895),(940,885),(950,900),(960,910),(970,895),(990,905),(1005,935),(845,905),(820,925),
                (780,975),(800,985),(825,990),(850,995),(960,930),(870,820),(890,825)]),
    ('navy', [(545,910),(555,930),(565,955),(575,970),(580,985),(600,975)]),
    ('dgreen', [(1020,960),(1040,955),(1060,945),(1070,975),(1090,985),(1100,970),(1110,990),(1120,1000),(1135,1005),(1145,1015),
                (1100,1010),(1095,1030),(1025,990),(1015,1000),(1125,935),(1145,935),(1160,935),(1080,990),(1100,995)]),
    ('rblue', [(765,1025),(795,1040),(820,1050),(840,1055)]),
    ('violet', [(430,965),(455,975),(480,990),(500,1005),(520,1000),(540,1010),(560,1015),(580,1010),(600,1005),(620,990),
                (640,980),(660,975),(680,970),(690,990),(700,1010),(710,1030),(720,1045),(700,1050),(680,1040),(660,1030),
                (640,1030),(620,1040),(600,1050),(580,1060),(560,1055),(540,1050),(520,1040),(500,1050),(480,1060),(460,1070),
                (440,1060),(470,1040),(450,1030),(500,1080),(520,1090),(540,1080),(560,1090),(580,1095),(600,1085),(620,1075),
                (640,1065),(660,1060),(680,1070),(560,1120),(580,1130),(600,1120),(620,1110),(540,1110),(520,1120),(560,1150),
                (580,1160),(600,1175),(380,1080),(400,1085),(420,1095),(440,1110),(460,1100),(480,1090),(700,985),(730,1020),
                (740,1040),(625,1020),(660,1005),(600,1030),(575,1035),(550,1030),(490,1020),(720,1070),(610,1140),(640,1130),
                (655,1160),(380,1100),(430,1075)]),
    ('green', [(360,1150),(380,1140),(400,1150),(420,1145),(440,1140),(455,1155),(445,1170),(425,1175),(405,1170),(385,1165),
               (395,1185),(415,1190),(435,1185),(410,1135),(430,1130),(450,1135),(360,1180),(340,1190),(325,1165),(300,1220),
               (320,1210),(345,1205),(350,1235),(330,1265),(370,1210),(380,1225),(405,1215),(405,1240),(405,1265),(275,1240),
               (285,1230),(530,1140),(535,1160),(535,1180),(535,1200),(540,1220),(515,1125),(480,1130),(460,1115),(375,1200),
               (355,1210)]),
    ('gold', [(630,1140),(650,1125),(665,1140),(690,1150),(710,1165),(730,1185),(740,1195),(750,1210),(745,1230),(755,1250),
              (760,1275),(770,1300),(780,1315),(785,1320),(795,1345),(805,1365),(740,1205),(735,1215)]),
    ('rosy', [(655,1200),(655,1240),(650,1280),(655,1320),(650,1345),(790,1230),(810,1225),(835,1240),(860,1245),(890,1238),
              (910,1240),(820,1260),(845,1275),(865,1285)]),
    ('olive2', [(360,1005),(370,1015),(385,1020),(400,1025),(420,1040)]),
    ('orange2', [(1055,405),(1065,398),(1075,393),(1090,385),(1100,378),(1080,380)]),
    ('navy_p', [(425,505),(440,515),(455,510),(470,510),(440,525),(445,500)]),
    ('lime2', [(258,545),(268,552),(280,550),(295,545),(268,560)]),
    ('gold_p', [(125,690),(138,692),(150,692),(162,692)]),
    ('olive', [(150,925),(165,930),(178,935),(192,930),(205,925),(180,950),(180,965)]),
    ('yellow', [(85,1140),(100,1136),(115,1133),(130,1130),(150,1126)]),
    ('dgreen_p', [(160,1265),(172,1275),(182,1290),(190,1305),(195,1310),(1250,575),(1265,585),(1280,595),(1295,600),(1310,605),
                  (1255,680),(1275,690),(1280,705),(1298,675),(1270,680),(1180,1350),(1195,1360),(1210,1370)]),
    ('teal3', [(1000,555),(1015,545),(1030,530),(1048,515)]),
    ('mint2', [(1185,610),(1185,630),(1187,650)]),
    ('bv', [(1365,670),(1375,685),(1380,700),(1045,1290),(1055,1305),(1055,1320)]),
    ('dbrown2_p', [(1190,725),(1205,740),(1220,755),(1230,765)]),
    ('maroon', [(1290,805),(1293,820),(1297,835),(1300,850),(1302,865),(1305,880),(1305,895)]),
    ('aqua', [(1360,930),(1362,950),(1365,970),(1372,990),(1360,985)]),
    ('pinkl', [(1170,1110),(1180,1108),(1190,1112)]),
    ('red', [(1010,1200),(1020,1195),(1030,1205),(1020,1215),(1020,1225)]),
    ('skyl', [(1105,1255),(1115,1270),(1125,1285)]),
    ('mag2', [(975,1300),(985,1310),(975,1320)]),
    ('magenta', [(880,1420),(900,1405),(915,1390),(905,1425),(890,1415)]),
    ('bgreen', [(1120,1400),(1135,1415),(1150,1410)]),
    ('gold2', [(690,1510),(705,1515),(720,1512),(730,1510),(710,1505)]),
]
B_hubs = {'cyan': [(785,262)], 'mblue': [(810,440),(705,450),(705,525),(800,515)], 'dbrown2': [(640,480)],
          'sky': [(855,640),(1040,700),(1120,850),(700,595)], 'teal': [(560,670),(520,760),(555,850)],
          'pink': [(800,770),(940,740),(630,830),(460,900)], 'orange': [(880,845),(960,900),(810,985)],
          'navy': [(565,950)], 'dgreen': [(1090,985)], 'rblue': [(765,1025)], 'violet': [(580,1060),(450,1090)],
          'green': [(420,1160),(535,1180)], 'rosy': [(655,1260),(840,1245)], 'olive2': [(420,1040)]}
B_dense = {'sky': 2, 'green': 2, 'violet': 2, 'mblue': 2}
B_edges = [
    ('r', [(785,262),(730,345),(705,450),(705,525)]), ('b', [(810,440),(800,515),(825,565),(855,640)]),
    ('r', [(705,525),(690,565),(660,590),(560,670)]), ('r', [(855,640),(820,700),(800,770),(880,845)]),
    ('r', [(800,770),(630,830),(575,890),(565,950),(580,1060)]), ('r', [(560,670),(520,760),(555,850),(575,890)]),
    ('b', [(880,845),(1040,820),(1120,850),(1120,910),(1090,985)]), ('r', [(810,985),(765,1025),(720,1045)]),
    ('b', [(580,1060),(420,1160)]), ('b', [(580,1060),(650,1125),(740,1195),(805,1365)]), ('b', [(580,1060),(655,1200),(650,1345)]),
    ('r', [(740,1195),(840,1245)]), ('r', [(460,900),(510,950),(480,990)]), ('b', [(1040,700),(1060,770),(1080,840)]),
    ('r', [(880,845),(780,975)]), ('r', [(640,480),(780,545),(855,640)]), ('b', [(700,595),(855,640)]),
    ('r', [(595,460),(610,465),(625,470),(640,480),(670,495),(740,525),(780,545)]),
    ('r', [(630,1140),(650,1125),(665,1140),(690,1150),(710,1165),(730,1185),(740,1195),(750,1210),(745,1230),(755,1250),
           (760,1275),(770,1300),(785,1320),(795,1345),(805,1365)]),
    ('orange2', [(1055,405),(1065,398),(1075,393),(1090,385),(1100,378)]), ('navy', [(425,505),(440,515),(455,510),(470,510)]),
    ('lime2', [(258,545),(268,552),(280,550),(295,545)]), ('gold', [(125,690),(138,692),(150,692),(162,692)]),
    ('olive', [(150,925),(165,930),(178,935),(192,930),(205,925)]), ('olive', [(178,935),(180,950),(180,965)]),
    ('yellow', [(85,1140),(100,1136),(115,1133),(130,1130),(150,1126)]),
    ('dgreen', [(160,1265),(172,1275),(182,1290),(190,1305),(195,1310)]), ('dgreen', [(1250,575),(1265,585),(1280,595),(1295,600),(1310,605)]),
    ('dgreen', [(1255,680),(1275,690),(1298,675)]), ('dgreen', [(1275,690),(1280,705)]), ('dgreen', [(1180,1350),(1195,1360),(1210,1370)]),
    ('teal3', [(1000,555),(1015,545),(1030,530),(1048,515)]), ('mint2', [(1185,610),(1185,630),(1187,650)]),
    ('bv', [(1365,670),(1375,685),(1380,700)]), ('bv', [(1045,1290),(1055,1305),(1055,1320)]),
    ('dbrown2', [(1190,725),(1205,740),(1220,755),(1230,765)]),
    ('maroon', [(1290,805),(1293,820),(1297,835),(1300,850),(1302,865),(1305,880),(1305,895)]),
    ('aqua', [(1360,930),(1362,950),(1365,970),(1372,990)]), ('red', [(1010,1200),(1020,1195),(1030,1205)]),
    ('red', [(1020,1195),(1020,1215),(1020,1225)]), ('skyl', [(1105,1255),(1115,1270),(1125,1285)]),
    ('mag2', [(975,1300),(985,1310),(975,1320)]), ('magenta', [(880,1420),(900,1405),(915,1390)]), ('magenta', [(900,1405),(905,1425)]),
    ('bgreen', [(1120,1400),(1135,1415),(1150,1410)]), ('gold2', [(690,1510),(705,1515),(720,1512),(730,1510)]),
]

# ---------------- rendering helpers ----------------
SX = 1568 / 634.0           # layout units per output pixel (x)
SY = 1568 / 692.0           # layout units per output pixel (y)
PT = 0.72 / SX              # points per layout unit
SIZE_MAP = {'A': {1: 13, 2: 18}, 'B': {1: 12, 2: 16}, 'C': {1: 13, 2: 20, 3: 28, 4: 40},
            'D': {1: 20, 2: 30, 3: 42, 4: 62}, 'E': {1: 13, 2: 21, 3: 29}, 'F': {1: 13, 2: 18, 3: 25, 4: 38}}


def col(key):
    return COL[key.split('_')[0]]


def tint(c, f=0.55):
    rgb = np.array(matplotlib.colors.to_rgb(c))
    return tuple(rgb + (1 - rgb) * f)


def bez(p, q, bend=0.12, n=16):
    p = np.asarray(p, float)
    q = np.asarray(q, float)
    d = q - p
    L = np.hypot(d[0], d[1])
    if L == 0:
        return None
    nrm = np.array([-d[1], d[0]]) / L
    c = (p + q) / 2 + nrm * bend * L
    t = np.linspace(0, 1, n)[:, None]
    return (1 - t) ** 2 * p + 2 * (1 - t) * t * c + t ** 2 * q


def edge_color(key):
    if key in EDGE:
        return EDGE[key]
    if key == 'gray':
        return '#c8c8c8'
    return tint(col(key), 0.55)


def draw_chains(ax, chains, lw, alpha, bend=0.1):
    for key, pts in chains:
        segs = [bez(pts[i], pts[i + 1], bend) for i in range(len(pts) - 1)]
        segs = [s for s in segs if s is not None]
        ax.add_collection(LineCollection(segs, colors=[edge_color(key)], linewidths=lw, alpha=alpha, zorder=1))


def draw_spokes(ax, nodes, hubs, lw, alpha, key_map=None):
    for key, pts in nodes:
        if key not in hubs:
            continue
        hs = np.array(hubs[key], float)
        segs = []
        for p in pts:
            dd = np.hypot(hs[:, 0] - p[0], hs[:, 1] - p[1])
            dd[dd < 1] = np.inf
            if np.all(np.isinf(dd)):
                continue
            q = hs[np.argmin(dd)]
            s = bez(p[:2], q, 0.12)
            if s is not None:
                segs.append(s)
        ec = EDGE['b'] if (key_map is None or key not in key_map) else EDGE[key_map[key]]
        ax.add_collection(LineCollection(segs, colors=[ec], linewidths=lw, alpha=alpha, zorder=1))


def draw_nodes(ax, nodes, smap, dense=None):
    dense = dense or {}
    for key, pts in nodes:
        base = dense.get(key, 1)
        xs = [p[0] for p in pts]
        ys = [p[1] for p in pts]
        ss = [(smap[p[2] if len(p) > 2 else base] * PT) ** 2 for p in pts]
        ax.scatter(xs, ys, s=ss, c=col(key), edgecolors='none', zorder=3)


def draw_dashes(ax, centers, ctr, dot, gap):
    for (x, y) in centers:
        v = np.array([x - ctr[0], y - ctr[1]], float)
        v /= max(np.hypot(*v), 1)
        t = np.array([-v[1], v[0]])
        pts = np.array([[x, y]]) + np.outer([-1, 0, 1], t) * gap
        ax.plot(pts[:, 0], pts[:, 1], color='#c8c8c8', lw=0.8, zorder=1)
        ax.scatter(pts[:, 0], pts[:, 1], s=(dot * PT) ** 2, c=COL['gray'], edgecolors='none', zorder=2)


# ---------------- figure ----------------
W, H = 1901, 1385
fig = plt.figure(figsize=(W / 100, H / 100), dpi=100, facecolor='white')
ORIG = {'A': (0, 0), 'C': (634, 0), 'E': (1268, 0), 'B': (0, 692), 'D': (634, 692), 'F': (1268, 692)}
LETTER_POS = {'A': (14, 3), 'C': (632, 3), 'E': (1265, 3), 'B': (14, 701), 'D': (632, 701), 'F': (1265, 701)}
axes = {}
for k, (x0, y0) in ORIG.items():
    ax = fig.add_axes([x0 / W, 1 - (y0 + 692) / H, 634 / W, 692 / H])
    ax.set_xlim(0, 634 * SX)
    ax.set_ylim(692 * SY, 0)
    ax.set_axis_off()
    axes[k] = ax
    tx, ty = TITLE_POS[k]
    ax.text(tx, ty, TITLES[k], ha='center', va='center', fontsize=23.5, fontfamily='Liberation Serif',
            fontweight='bold', color='#111111')
    lx, ly = LETTER_POS[k]
    fig.text(lx / W, 1 - ly / H, k, ha='left', va='top', fontsize=22, fontfamily='Liberation Sans',
             fontweight='bold', color='black')

# Panel A
ax = axes['A']
draw_dashes(ax, A_dash, A_center, 8, 10)
draw_spokes(ax, [('blue', A_ring_in + A_blue_out)], {'blue': A_ring}, 0.7, 0.55)
draw_chains(ax, [('b', A_ring)], 0.9, 0.7, bend=0.05)
draw_spokes(ax, A_nodes, A_hubs, 0.6, 0.5, key_map={'violet': 'b', 'sky': 'b', 'green': 'b', 'teal': 'r', 'gray': 'r'})
draw_chains(ax, A_edges, 0.7, 0.6)
draw_nodes(ax, [('blue', A_ring + A_ring_in)], SIZE_MAP['A'], {'blue': 2})
draw_nodes(ax, [('blue', A_blue_out)], SIZE_MAP['A'])
draw_nodes(ax, A_nodes, SIZE_MAP['A'], A_dense)

# Panel B
ax = axes['B']
draw_dashes(ax, B_dash, B_center, 8, 10)
draw_spokes(ax, B_nodes, B_hubs, 0.5, 0.45,
            key_map={'pink': 'r', 'orange': 'r', 'teal': 'b', 'violet': 'b', 'green': 'b', 'rosy': 'b'})
draw_chains(ax, B_edges, 0.6, 0.5)
draw_nodes(ax, B_nodes, SIZE_MAP['B'], B_dense)

# Panel C
ax = axes['C']
draw_chains(ax, C_edges, 1.0, 0.8)
draw_nodes(ax, C_nodes, SIZE_MAP['C'])

# Panel D
ax = axes['D']
draw_chains(ax, D_edges, 1.2, 0.8)
draw_nodes(ax, D_nodes, SIZE_MAP['D'])

# Panel E
ax = axes['E']
draw_chains(ax, E_edges, 1.0, 0.7)
draw_nodes(ax, E_nodes, SIZE_MAP['E'])

# Panel F
ax = axes['F']
draw_spokes(ax, F_nodes, F_hubs, 0.8, 0.7)
draw_chains(ax, F_edges, 1.0, 0.8)
draw_nodes(ax, F_nodes, SIZE_MAP['F'])

fig.savefig('out.png', dpi=100, facecolor='white')
